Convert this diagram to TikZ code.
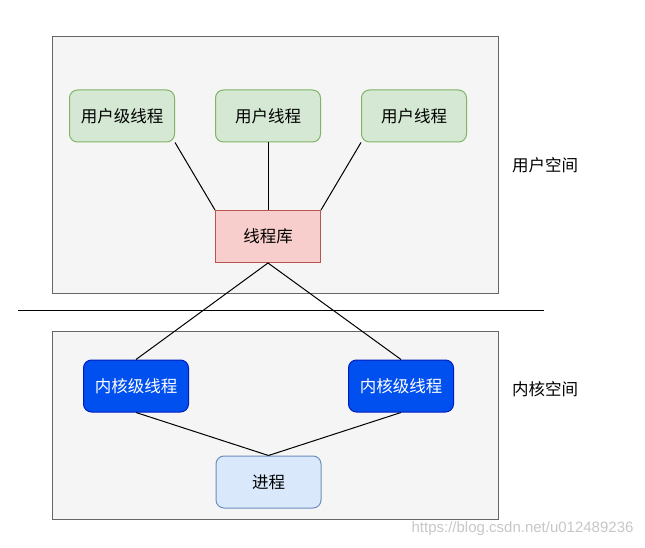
\documentclass[tikz,border=0pt]{standalone}
\usepackage{fontspec}
\setmainfont{Noto Sans CJK SC}
\newfontfamily\urlfont{Liberation Sans}
\usetikzlibrary{positioning}
\definecolor{spacefill}{HTML}{F5F5F5}
\definecolor{spaceline}{HTML}{666666}
\definecolor{userfill}{HTML}{D5E8D4}
\definecolor{userline}{HTML}{82B366}
\definecolor{libfill}{HTML}{F8CECC}
\definecolor{libline}{HTML}{B85450}
\definecolor{kernfill}{HTML}{0050EF}
\definecolor{kernline}{HTML}{001DBC}
\definecolor{procfill}{HTML}{DAE8FC}
\definecolor{procline}{HTML}{6C8EBF}

\begin{document}
\begin{tikzpicture}[
    x=1pt, y=-1pt,
    every node/.style={font=\fontsize{16.5}{19}\selectfont},
    spacebox/.style={draw=spaceline, fill=spacefill, line width=1pt,
                     minimum width=446pt},
    userbox/.style={draw=userline, fill=userfill, rounded corners=8pt, line width=1pt,
                    minimum width=105pt, minimum height=52pt},
    libbox/.style={draw=libline, fill=libfill, line width=1pt,
                   minimum width=105pt, minimum height=52pt},
    kernbox/.style={draw=kernline, fill=kernfill, text=white, rounded corners=8pt,
                    line width=1pt, minimum width=105pt, minimum height=52pt},
    procbox/.style={draw=procline, fill=procfill, rounded corners=8pt, line width=1pt,
                    minimum width=105pt, minimum height=52pt},
    link/.style={line width=1pt}
  ]
  \useasboundingbox (0,0) rectangle (645,548);

  % User space
  \node[spacebox, minimum height=256pt] (userspace) at (275,165) {};
  \node[userbox] (u1) at (122,116) {用户级线程};
  \node[userbox, right=40pt of u1] (u2) {用户线程};
  \node[userbox, right=40pt of u2] (u3) {用户线程};
  \node[libbox] (lib) at (268,236.5) {线程库};
  \node (ulabel) at (545,165) {用户空间};

  % Kernel space
  \node[spacebox, minimum height=188pt] (kernspace) at (275,425) {};
  \node[kernbox] (k1) at (136,386) {内核级线程};
  \node[kernbox] (k2) at (401,386) {内核级线程};
  \node[procbox] (proc) at (268.5,482) {进程};
  \node (klabel) at (545,389) {内核空间};

  % Separator
  \draw[link] (18,310) -- (544,310);

  \draw[link] (u1.south east) -- (lib.north west);
  \draw[link] (u2) -- (lib);
  \draw[link] (u3.south west) -- (lib.north east);
  \draw[link] (lib.south) -- (k1.north);
  \draw[link] (lib.south) -- (k2.north);
  \draw[link] (k1.south) -- (proc.north);
  \draw[link] (k2.south) -- (proc.north);

  \node[font=\urlfont\fontsize{15}{17}\selectfont, text=black!22, anchor=east] (mark)
    at (637,529) {https://blog.csdn.net/u012489236};
\end{tikzpicture}
\end{document}
